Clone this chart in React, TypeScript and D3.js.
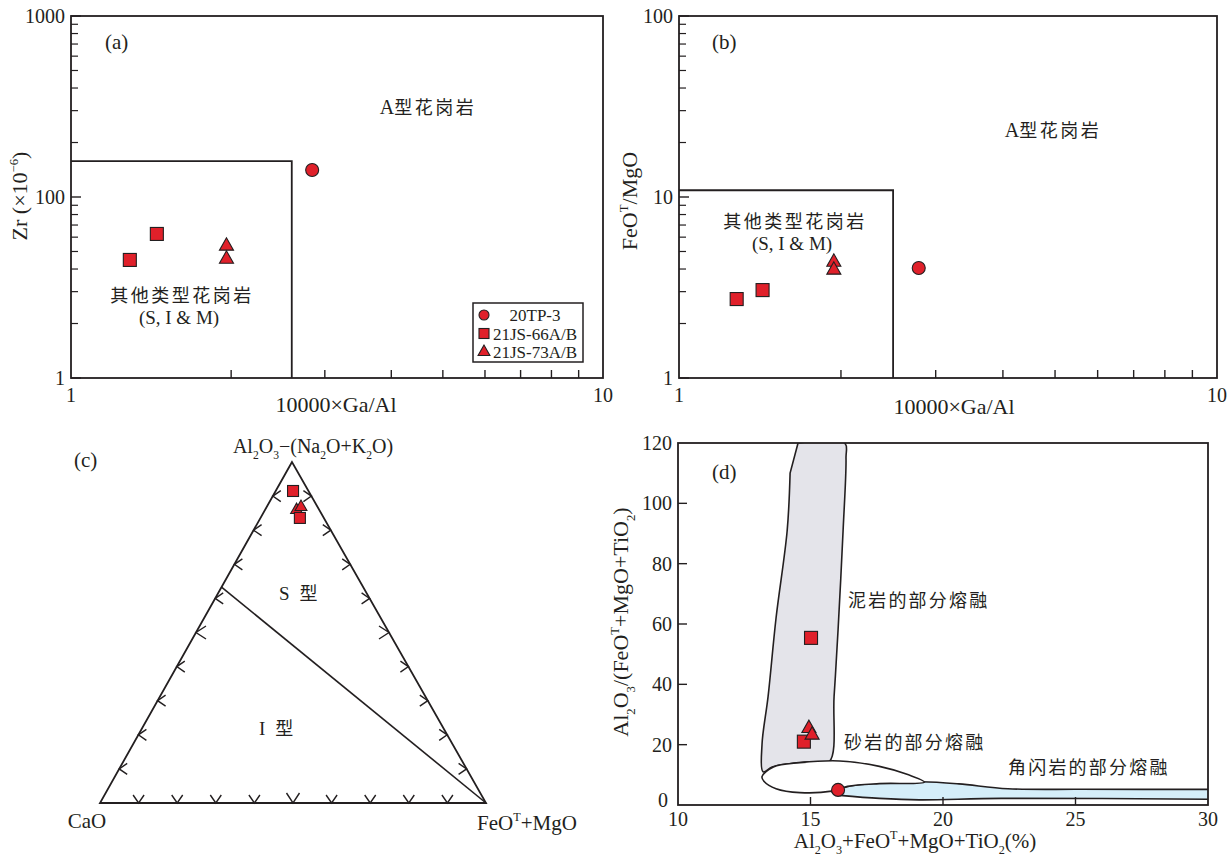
import React from 'react';
import * as d3 from 'd3';

const SERIF = '"Liberation Serif", "Times New Roman", "Noto Sans CJK SC", serif';
const CJK = '"Noto Sans CJK SC", sans-serif';
const RED = '#e0202a';
const INK = '#231f20';

// samples and their symbols
const samples = ['20TP-3', '21JS-66A/B', '21JS-73A/B'];
const shapes = ['circle', 'square', 'triangle'];

// (a) Zr vs 10000*Ga/Al
const gaAlA = [[2.84], [1.29, 1.45], [1.96, 1.96]];
const zrA = [[141], [44.9, 62.5], [53.6, 45.4]];
const boundA = { gaAl: 2.6, zr: 158 };
const yTickValsA = [10, 100, 1000];
const yTickTextA = ['1', '100', '1000'];

// (b) FeOT/MgO vs 10000*Ga/Al
const gaAlB = [[2.79], [1.28, 1.43], [1.94, 1.94]];
const feoMgoB = [[4.05], [2.73, 3.06], [4.37, 3.95]];
const boundB = { gaAl: 2.5, ratio: 10.9 };
const yTickValsB = [1, 10, 100];
const yTickTextB = ['1', '10', '100'];

// (c) ternary [Al2O3-(Na2O+K2O), CaO, FeOT+MgO]
const ternC: number[][][] = [[], [[91.5, 4.0, 4.5], [83.6, 6.2, 10.2]], [[85.9, 5.9, 8.2], [86.8, 4.3, 8.9]]];
const sIBoundary = [[63.3, 36.7, 0], [0, 0, 100]];

// (d) Al2O3/(FeOT+MgO+TiO2) vs Al2O3+FeOT+MgO+TiO2
const sumD = [[16.04], [15.02, 14.75], [14.94, 15.06]];
const ratioD = [[5.0], [55.4, 21.0], [25.4, 23.2]];
const xTicksD = [10, 15, 20, 25, 30];
const yTicksD = [0, 20, 40, 60, 80, 100, 120];
const mudstone = [
  [14.53, 120], [16.29, 120], [16.34, 115], [16.23, 91], [16.04, 58], [15.89, 36], [15.71, 14.4],
  [15.0, 14.3], [14.2, 13.7], [13.55, 12.6], [13.21, 11.0], [13.17, 20], [13.4, 36], [13.7, 62],
  [14.12, 91], [14.23, 110],
];
const sandstone = [
  [13.17, 9.4], [13.6, 12.6], [14.6, 14.0], [16.1, 14.6], [17.6, 12.8], [18.7, 10.0], [19.3, 7.6],
  [17.6, 7.1], [16.4, 6.2], [15.8, 4.6], [14.6, 4.1], [13.7, 5.4], [13.25, 7.8],
];
const amphiboliteTop = [[15.8, 4.4], [16.5, 6.3], [17.6, 7.3], [19.2, 7.7], [20.6, 7.0], [22.45, 5.4], [25.2, 5.2], [30.5, 5.2]];
const amphiboliteBottom = [[30.5, 1.9], [22.2, 2.2], [19.1, 1.7], [17.6, 2.2], [16.1, 3.2]];

type Part = { t: string; k: 'n' | 'sub' | 'sup' };
function parseChem(s: string): Part[] {
  const parts: Part[] = [];
  let i = 0;
  let buf = '';
  while (i < s.length) {
    const ch = s[i];
    if (ch === '_' || ch === '^') {
      if (buf) { parts.push({ t: buf, k: 'n' }); buf = ''; }
      let t = '';
      if (s[i + 1] === '{') {
        const j = s.indexOf('}', i);
        t = s.slice(i + 2, j);
        i = j + 1;
      } else {
        t = s[i + 1];
        i += 2;
      }
      parts.push({ t, k: ch === '_' ? 'sub' : 'sup' });
    } else {
      buf += ch;
      i++;
    }
  }
  if (buf) parts.push({ t: buf, k: 'n' });
  return parts;
}

function Chem({ text, x, y, size, anchor = 'start', rotate = 0 }: any) {
  const parts = parseChem(text);
  let level = 0;
  const spans = parts.map((p, i) => {
    const target = p.k === 'sub' ? size * 0.3 : p.k === 'sup' ? -size * 0.42 : 0;
    const dy = target - level;
    level = target;
    return (
      <tspan key={i} dy={dy} fontSize={p.k === 'n' ? size : size * 0.58}>{p.t}</tspan>
    );
  });
  return (
    <text x={x} y={y} fontFamily={SERIF} fontSize={size} fill={INK} textAnchor={anchor}
      transform={rotate ? `rotate(${rotate},${x},${y})` : undefined}>{spans}</text>
  );
}

function Marker({ shape, x, y, size = 13 }: any) {
  const st = { fill: RED, stroke: INK, strokeWidth: 1.1 };
  if (shape === 'circle') return <circle cx={x} cy={y} r={size / 2} {...st} />;
  if (shape === 'square') return <rect x={x - size / 2} y={y - size / 2} width={size} height={size} {...st} />;
  const w = size * 1.08;
  const h = size * 0.95;
  return <polygon points={`${x},${y - (h * 2) / 3} ${x - w / 2},${y + h / 3} ${x + w / 2},${y + h / 3}`} {...st} />;
}

function CjkText({ x, y, children, size = 18, spacing = 2.5, anchor = 'middle' }: any) {
  return (
    <text x={x} y={y} fontFamily={CJK} fontSize={size} fill={INK} textAnchor={anchor} letterSpacing={spacing}>{children}</text>
  );
}

function LogPanel({ x, y, yVals, yText, xs, ys, bound, label, labelPos, yTitle, yTitlePos, xTitleX, xTitleY, aPos, otherPos, legend }: any) {
  const [x0, x1] = x.range();
  const [y0, y1] = y.range();
  const xMinor = x.ticks().filter((v: number) => v > 1 && v < 10);
  const yMinor = y.ticks().filter((v: number) => !yVals.includes(v));
  return (
    <g>
      <rect x={x0} y={y1} width={x1 - x0} height={y0 - y1} fill="none" stroke={INK} strokeWidth={1.8} />
      {xMinor.map((v: number) => (
        <line key={'x' + v} x1={x(v)} x2={x(v)} y1={y0} y2={y0 - 8} stroke={INK} strokeWidth={1.4} />
      ))}
      {yMinor.map((v: number) => (
        <line key={'y' + v} x1={x0} x2={x0 + 7} y1={y(v)} y2={y(v)} stroke={INK} strokeWidth={1.2} />
      ))}
      {yVals.map((v: number, i: number) => (
        <g key={'yl' + v}>
          <line x1={x0} x2={x0 + 10} y1={y(v)} y2={y(v)} stroke={INK} strokeWidth={1.4} />
          <text x={x0 - 6} y={y(v) + 7} textAnchor="end" fontFamily={SERIF} fontSize={20} fill={INK}>{yText[i]}</text>
        </g>
      ))}
      <text x={x0} y={402} textAnchor="middle" fontFamily={SERIF} fontSize={20} fill={INK}>1</text>
      <text x={x1} y={402} textAnchor="middle" fontFamily={SERIF} fontSize={20} fill={INK}>10</text>
      <text x={xTitleX} y={xTitleY} textAnchor="middle" fontFamily={SERIF} fontSize={22} fill={INK}>10000×Ga/Al</text>
      <Chem text={yTitle} x={yTitlePos[0]} y={yTitlePos[1]} size={22} anchor="middle" rotate={-90} />
      <path d={`M${x0},${y(bound[1])}H${x(bound[0])}V${y0}`} fill="none" stroke={INK} strokeWidth={1.8} />
      <text x={labelPos[0]} y={labelPos[1]} fontFamily={SERIF} fontSize={21} fill={INK}>{label}</text>
      <text x={aPos[0]} y={aPos[1]} textAnchor="middle" fontSize={18} fill={INK} fontFamily={SERIF}>
        <tspan fontFamily={SERIF} fontSize={20}>A</tspan>
        <tspan fontFamily={CJK} letterSpacing={2.5}>型花岗岩</tspan>
      </text>
      <CjkText x={otherPos[0]} y={otherPos[1]}>其他类型花岗岩</CjkText>
      <text x={otherPos[0] - 3} y={otherPos[1] + 22} textAnchor="middle" fontFamily={SERIF} fontSize={19} fill={INK}>(S, I &amp; M)</text>
      {xs.map((row: number[], si: number) =>
        row.map((v: number, j: number) => (
          <Marker key={si + '-' + j} shape={shapes[si]} x={x(v)} y={y(ys[si][j])} size={13} />
        ))
      )}
      {legend}
    </g>
  );
}

function Legend() {
  const lx = 473, ly = 303;
  return (
    <g>
      <rect x={lx} y={ly} width={110} height={59} fill="#fff" stroke={INK} strokeWidth={1.5} />
      {samples.map((s, i) => (
        <g key={s}>
          <Marker shape={shapes[i]} x={lx + 11} y={ly + 12 + i * 18.5} size={shapes[i] === 'triangle' ? 11 : 10} />
          <text x={lx + 62} y={ly + 18 + i * 18.5} textAnchor="middle" fontFamily={SERIF} fontSize={17} fill={INK}>{s}</text>
        </g>
      ))}
    </g>
  );
}

function PanelA() {
  const x = d3.scaleLog().domain([1, 10]).range([71, 603]);
  const y = d3.scaleLog().domain([10, 1000]).range([378, 16]);
  return (
    <LogPanel x={x} y={y} yVals={yTickValsA} yText={yTickTextA} xs={gaAlA} ys={zrA}
      bound={[boundA.gaAl, boundA.zr]} label="(a)" labelPos={[105, 49]}
      yTitle="Zr (×10^{−6})" yTitlePos={[27, 196]} xTitleX={336} xTitleY={412}
      aPos={[428, 114]} otherPos={[182, 302]} legend={<Legend />} />
  );
}

function PanelB() {
  const x = d3.scaleLog().domain([1, 10]).range([679, 1217]);
  const y = d3.scaleLog().domain([1, 100]).range([378, 16]);
  return (
    <LogPanel x={x} y={y} yVals={yTickValsB} yText={yTickTextB} xs={gaAlB} ys={feoMgoB}
      bound={[boundB.gaAl, boundB.ratio]} label="(b)" labelPos={[712, 49]}
      yTitle="FeO^T/MgO" yTitlePos={[637, 201]} xTitleX={954} xTitleY={414}
      aPos={[1053, 137]} otherPos={[795, 228]} legend={null} />
  );
}

function PanelC() {
  const A = [292, 462], C = [100, 803], F = [486, 803];
  const tern = (p: number[]) => {
    const s = p[0] + p[1] + p[2];
    const a = p[0] / s, c = p[1] / s, f = p[2] / s;
    return [A[0] * a + C[0] * c + F[0] * f, A[1] * a + C[1] * c + F[1] * f];
  };
  const ts = d3.range(1, 10).map((i) => i / 10);
  const chevron = (P: number[], d: number[], big: boolean) => {
    const L = big ? 10 : 8, S = big ? 6.5 : 5.5;
    const n = [-d[1], d[0]];
    const a1 = [P[0] - d[0] * L + n[0] * S, P[1] - d[1] * L + n[1] * S];
    const a2 = [P[0] - d[0] * L - n[0] * S, P[1] - d[1] * L - n[1] * S];
    return `M${a1[0]},${a1[1]}L${P[0]},${P[1]}L${a2[0]},${a2[1]}`;
  };
  const ticks: string[] = [];
  ts.forEach((t, i) => {
    const big = i === 4;
    ticks.push(chevron([C[0] + t * (A[0] - C[0]), C[1] + t * (A[1] - C[1])], [-1, 0], big));
    ticks.push(chevron([F[0] + t * (A[0] - F[0]), F[1] + t * (A[1] - F[1])], [1, 0], big));
    ticks.push(chevron([C[0] + t * (F[0] - C[0]), C[1]], [0, 1], big));
  });
  const b0 = tern(sIBoundary[0]), b1 = tern(sIBoundary[1]);
  const order = [2, 1];
  return (
    <g>
      <polygon points={[A, C, F].map((p) => p.join(',')).join(' ')} fill="none" stroke={INK} strokeWidth={1.8} strokeLinejoin="miter" />
      {ticks.map((d, i) => <path key={i} d={d} fill="none" stroke={INK} strokeWidth={1.4} />)}
      <line x1={b0[0]} y1={b0[1]} x2={b1[0]} y2={b1[1]} stroke={INK} strokeWidth={1.6} />
      {order.map((si) => ternC[si].map((p, j) => {
        const [px, py] = tern(p);
        return <Marker key={si + '-' + j} shape={shapes[si]} x={px} y={py} size={11} />;
      }))}
      <text x={74} y={467} fontFamily={SERIF} fontSize={21} fill={INK}>(c)</text>
      <Chem text="Al_2O_3−(Na_2O+K_2O)" x={313} y={453} size={20} anchor="middle" />
      <text x={87} y={828} textAnchor="middle" fontFamily={SERIF} fontSize={21} fill={INK}>CaO</text>
      <Chem text="FeO^T+MgO" x={527} y={830} size={21} anchor="middle" />
      <text x={279} y={600} fontFamily={SERIF} fontSize={19} fill={INK}>S
        <tspan fontFamily={CJK} fontSize={18} dx={10}>型</tspan></text>
      <text x={259} y={735} fontFamily={SERIF} fontSize={19} fill={INK}>I
        <tspan fontFamily={CJK} fontSize={18} dx={10}>型</tspan></text>
    </g>
  );
}

function PanelD() {
  const x = d3.scaleLinear().domain([10, 30]).range([678, 1208]);
  const y = d3.scaleLinear().domain([0, 120]).range([805, 443]);
  const closed = d3.line<number[]>().x((d) => x(d[0])).y((d) => y(d[1])).curve(d3.curveCatmullRomClosed.alpha(0.5));
  const lin = d3.line<number[]>().x((d) => x(d[0])).y((d) => y(d[1])).curve(d3.curveCatmullRom.alpha(0.5));
  const mudPath = lin(mudstone) + 'Z';
  const amphPath = lin(amphiboliteTop) + 'L' + lin(amphiboliteBottom)!.slice(1) + 'Z';
  const sandPath = closed(sandstone)!;
  const rs = { stroke: INK, strokeWidth: 1.6, strokeLinejoin: 'round' as const };
  return (
    <g>
      <defs>
        <clipPath id="clipD"><rect x={678} y={443} width={530} height={362} /></clipPath>
      </defs>
      <g clipPath="url(#clipD)">
        <path d={mudPath} fill="#e4e4ea" {...rs} />
        <path d={amphPath} fill="#d5eef9" {...rs} />
        <path d={sandPath} fill="#fff" {...rs} />
      </g>
      <rect x={678} y={443} width={530} height={362} fill="none" stroke={INK} strokeWidth={1.8} />
      {xTicksD.map((v) => (
        <g key={'x' + v}>
          {v > 10 && v < 30 && <line x1={x(v)} x2={x(v)} y1={805} y2={797} stroke={INK} strokeWidth={1.4} />}
          <text x={x(v)} y={826} textAnchor="middle" fontFamily={SERIF} fontSize={20} fill={INK}>{v}</text>
        </g>
      ))}
      {yTicksD.map((v) => (
        <g key={'y' + v}>
          {v > 0 && v < 120 && <line x1={678} x2={687} y1={y(v)} y2={y(v)} stroke={INK} strokeWidth={1.4} />}
          <text x={v === 0 ? 668 : 672} y={y(v) + (v === 0 ? 2 : 7)} textAnchor="end" fontFamily={SERIF} fontSize={20} fill={INK}>{v}</text>
        </g>
      ))}
      {sumD.map((row, si) => row.map((v, j) => (
        <Marker key={si + '-' + j} shape={shapes[si]} x={x(v)} y={y(ratioD[si][j])} size={13} />
      )))}
      <text x={712} y={479} fontFamily={SERIF} fontSize={21} fill={INK}>(d)</text>
      <CjkText x={848} y={607} anchor="start" spacing={2.2}>泥岩的部分熔融</CjkText>
      <CjkText x={844} y={749} anchor="start" spacing={2.2}>砂岩的部分熔融</CjkText>
      <CjkText x={1008} y={774} anchor="start" spacing={2.2}>角闪岩的部分熔融</CjkText>
      <Chem text="Al_2O_3/(FeO^T+MgO+TiO_2)" x={628} y={622} size={22} anchor="middle" rotate={-90} />
      <Chem text="Al_2O_3+FeO^T+MgO+TiO_2(%)" x={915} y={848} size={21} anchor="middle" />
    </g>
  );
}

export default function App() {
  return (
    <svg width={1231} height={856} style={{ position: 'absolute', left: 0, top: 0, background: '#fff' }}>
      <rect width={1231} height={856} fill="#fff" />
      <PanelA />
      <PanelB />
      <PanelC />
      <PanelD />
    </svg>
  );
}
